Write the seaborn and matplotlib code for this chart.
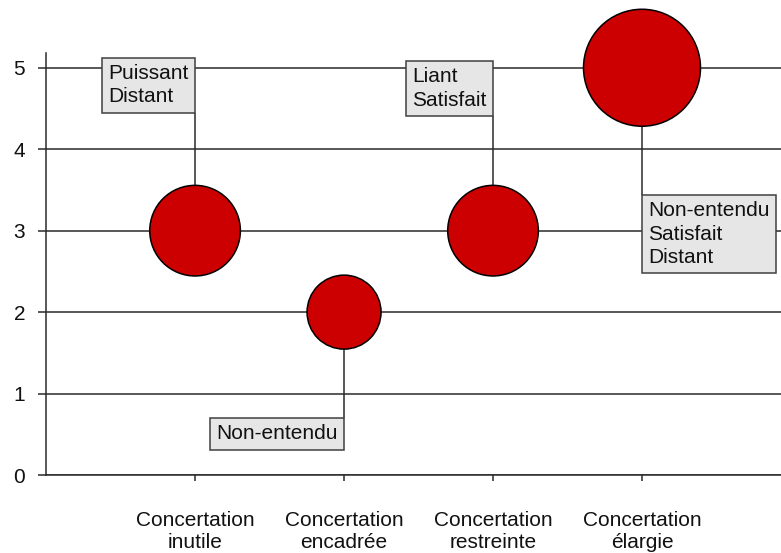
import pandas as pd
import seaborn as sns
import matplotlib.pyplot as plt
from matplotlib.transforms import offset_copy

categories = ['Concertation\ninutile', 'Concertation\nencadrée',
              'Concertation\nrestreinte', 'Concertation\nélargie']
niveau = [3, 2, 3, 5]
taille = [3, 2, 3, 5]
etiquettes = ['Puissant\nDistant', 'Non-entendu', 'Liant\nSatisfait',
              'Non-entendu\nSatisfait\nDistant']
etiquette_y = [4.45, 0.70, 4.41, 3.44]
etiquette_cote = ['haut', 'bas', 'haut', 'bas']
etiquette_align = ['right', 'right', 'right', 'left']

sns.set_style('white')
plt.rcParams['font.family'] = ['Liberation Sans', 'DejaVu Sans']

tabela = pd.DataFrame({'categorie': categories, 'niveau': niveau, 'taille': taille})

fig = plt.figure(figsize=(7.81, 5.53), dpi=100)
ax = fig.add_axes([0.059, 0.141, 0.941, 0.763])

grid_col = '#2a2a2a'
ax.set_axisbelow(True)
ax.grid(axis='y', color=grid_col, linewidth=1.1)
ax.grid(axis='x', visible=False)

sns.scatterplot(data=tabela, x='categorie', y='niveau', size='taille',
                sizes=(2 * 1419, 5 * 1419), size_norm=(2, 5), legend=False,
                color='#cc0000', edgecolor='black', linewidth=1.1,
                zorder=5, clip_on=False, ax=ax)

# traits de liaison entre bulle et etiquette
ax.vlines(range(len(niveau)), niveau, etiquette_y, color=grid_col,
          linewidth=1.1, zorder=3)

pad_pt = 4.5
for i, txt in enumerate(etiquettes):
    ha = etiquette_align[i]
    dx = -pad_pt if ha == 'right' else pad_pt
    if etiquette_cote[i] == 'haut':
        va, dy = 'bottom', pad_pt
    else:
        va, dy = 'top', -pad_pt
    tr = offset_copy(ax.transData, fig=fig, x=dx, y=dy, units='points')
    ax.text(i, etiquette_y[i], txt, transform=tr, ha=ha, va=va,
            multialignment='left', fontsize=15, color='#111111',
            linespacing=1.3, zorder=4, clip_on=False,
            bbox=dict(boxstyle='square,pad=0.3', facecolor='#e6e6e6',
                      edgecolor='#404040', linewidth=1.1))

ax.set_xlim(-1.0, 3.933)
ax.set_ylim(0, 5.18)
ax.set_yticks(range(0, 6))
ax.set_xlabel('')
ax.set_ylabel('')

for s in ['top', 'right']:
    ax.spines[s].set_visible(False)
for s in ['left', 'bottom']:
    ax.spines[s].set_color(grid_col)
    ax.spines[s].set_linewidth(1.1)

ax.tick_params(axis='y', left=True, length=6, width=1.1, color=grid_col,
               pad=9, labelsize=15, labelcolor='#111111')
ax.tick_params(axis='x', bottom=True, length=4, width=1.1, color=grid_col,
               pad=22, labelsize=15, labelcolor='#111111')

fig.savefig('out.png', dpi=100)
